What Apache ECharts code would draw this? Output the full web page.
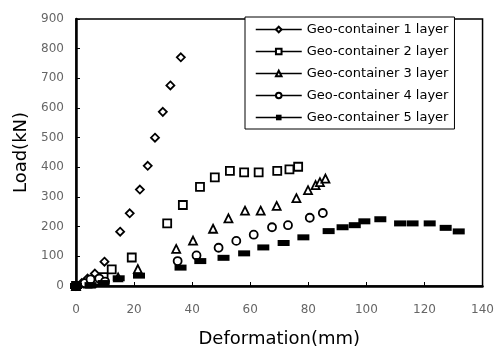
<!DOCTYPE html>
<html><head><meta charset="utf-8">
<script src="https://cdn.jsdelivr.net/npm/echarts@6/dist/echarts.min.js"></script>
<style>html,body{margin:0;padding:0;background:#fff}#c{width:497px;height:353px}</style>
</head><body><div id="c"></div>
<script>
const seriesNames = ['Geo-container 1 layer','Geo-container 2 layer','Geo-container 3 layer','Geo-container 4 layer','Geo-container 5 layer'];
const s1x = [0, 2, 4, 6.5, 9.8, 15.2, 18.5, 22, 24.7, 27.2, 29.9, 32.5, 36.1];
const s1y = [0, 10, 25, 42, 82, 183, 245, 325, 405, 500, 587, 676, 771];
const s2x = [0, 4, 7, 9.5, 12.3, 19.2, 31.4, 36.8, 42.7, 47.8, 53, 57.9, 62.9, 69.3, 73.5, 76.5];
const s2y = [0, 8, 18, 30, 56, 96, 211, 273, 334, 366, 388, 383, 383, 388, 393, 402];
const s3x = [0, 5, 9, 14.5, 21.3, 34.5, 40.3, 47.2, 52.5, 58.2, 63.6, 69.1, 75.9, 79.9, 82.5, 84, 85.9];
const s3y = [0, 8, 15, 29, 57, 125, 153, 193, 228, 254, 254, 270, 296, 323, 340, 350, 362];
const s4x = [0, 3, 5, 8, 10, 35, 41.5, 49.1, 55.2, 61.2, 67.5, 73, 80.5, 85];
const s4y = [0, 10, 22, 25, 15, 84, 103, 129, 152, 173, 198, 205, 230, 246];
const s5x = [0, 5, 9.5, 14.7, 21.7, 36, 42.8, 50.8, 57.9, 64.5, 71.5, 78.3, 87, 91.8, 96, 99.3, 104.8, 111.6, 115.9, 121.8, 127.3, 131.8];
const s5y = [0, 3, 10, 26, 35, 62, 84, 95, 110, 130, 145, 164, 185, 198, 205, 218, 225, 211, 211, 211, 196, 184];

const xs = [s1x, s2x, s3x, s4x, s5x];
const ys = [s1y, s2y, s3y, s4y, s5y];
const symbols = ['path://M0,-1L1,0L0,1L-1,0Z', 'rect', 'triangle', 'circle', 'rect'];
const sizes = [8, 8, 8, 8, [12, 6]];
const fills = ['#fff', '#fff', '#fff', '#fff', '#000'];

const chart = echarts.init(document.getElementById('c'));
const series = seriesNames.map((n, i) => ({
  name: n,
  type: 'line',
  data: xs[i].map((x, k) => [x, ys[i][k]]),
  symbol: symbols[i],
  symbolSize: sizes[i],
  showAllSymbol: true,
  lineStyle: { opacity: 0, width: 0 },
  itemStyle: { color: fills[i], borderColor: '#000', borderWidth: i === 4 ? 0 : 1.8 },
  emphasis: { disabled: true },
  animation: false
}));

chart.setOption({
  animation: false,
  backgroundColor: '#fff',
  textStyle: { fontFamily: 'DejaVu Sans' },
  grid: { left: 76, right: 12, top: 19, bottom: 67, show: true, borderColor: '#000', borderWidth: 1.5 },
  legend: {
    orient: 'vertical', left: 245, top: 17,
    itemWidth: 46, itemHeight: 7, itemGap: 9,
    padding: [6, 6, 5, 10],
    borderColor: '#000', borderWidth: 1, backgroundColor: '#fff',
    textStyle: { color: '#000', fontSize: 13, fontFamily: 'DejaVu Sans' },
    lineStyle: { opacity: 1, width: 1.5, color: '#000' },
    data: seriesNames
  },
  xAxis: {
    type: 'value', min: 0, max: 140, interval: 20,
    name: 'Deformation(mm)', nameLocation: 'middle', nameGap: 44,
    nameTextStyle: { fontSize: 18, color: '#000', fontFamily: 'DejaVu Sans' },
    axisLine: { lineStyle: { color: '#000', width: 2.5 } },
    axisTick: { inside: true, length: 4, lineStyle: { color: '#000' } },
    axisLabel: { color: '#666', fontSize: 12, margin: 18 },
    splitLine: { show: false }
  },
  yAxis: {
    type: 'value', min: 0, max: 900, interval: 100,
    name: 'Load(kN)', nameLocation: 'middle', nameGap: 44, nameRotate: 90,
    nameTextStyle: { fontSize: 18, color: '#000', fontFamily: 'DejaVu Sans' },
    axisLine: { lineStyle: { color: '#000', width: 2.5 } },
    axisTick: { inside: true, length: 4, lineStyle: { color: '#000' } },
    axisLabel: { color: '#666', fontSize: 12, margin: 12 },
    splitLine: { show: false }
  },
  series: series
});
</script></body></html>
